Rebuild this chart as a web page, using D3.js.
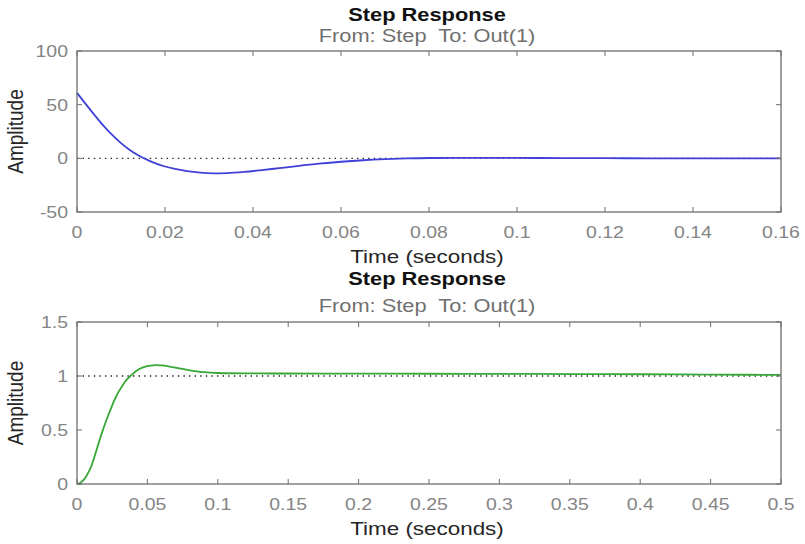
<!DOCTYPE html>
<html lang="en">
<head>
  <meta charset="UTF-8">
  <title>Step Response</title>
  <script src="https://d3js.org/d3.v7.min.js"></script>
  <style>
    body {
      margin: 0;
      background: white;
      font-family: "Liberation Sans", Arial, sans-serif;
    }
    text { white-space: pre; }
  </style>
</head>
<body>
  <div id="chart"></div>
  <script>
    // top panel: step response (time in s, amplitude)
    const topTime = [0, 0.002, 0.004, 0.006, 0.008, 0.010, 0.012, 0.014, 0.016, 0.018,
      0.020, 0.022, 0.025, 0.028, 0.031, 0.034, 0.038, 0.042, 0.046, 0.050,
      0.055, 0.060, 0.065, 0.070, 0.075, 0.080, 0.090, 0.100, 0.110, 0.120,
      0.130, 0.140, 0.160];
    const topAmp = [61, 50.5, 40.3, 30.5, 21.8, 14.2, 7.8, 2.6, -1.5, -4.9,
      -7.6, -9.7, -12, -13.4, -14, -13.8, -12.7, -11, -9.1, -7.2,
      -5, -3.2, -1.8, -0.8, -0.1, 0.3, 0.5, 0.4, 0.25, 0.12,
      0.05, 0, 0];

    // bottom panel
    const botTime = [0, 0.002, 0.004, 0.006, 0.008, 0.010, 0.012, 0.014, 0.016, 0.018,
      0.020, 0.022, 0.024, 0.026, 0.028, 0.030, 0.032, 0.034, 0.036, 0.038,
      0.040, 0.042, 0.045, 0.048, 0.052, 0.056, 0.060, 0.065, 0.070, 0.075,
      0.080, 0.085, 0.090, 0.100, 0.120, 0.150, 0.200, 0.250, 0.300, 0.350,
      0.400, 0.450, 0.500];
    const botAmp = [0, 0.008, 0.028, 0.06, 0.105, 0.16, 0.235, 0.32, 0.405, 0.485,
      0.56, 0.63, 0.695, 0.76, 0.815, 0.865, 0.905, 0.945, 0.975, 1.0,
      1.025, 1.047, 1.07, 1.085, 1.096, 1.1, 1.098, 1.09, 1.078, 1.065,
      1.052, 1.042, 1.035, 1.028, 1.024, 1.023, 1.022, 1.021, 1.02, 1.018,
      1.016, 1.013, 1.01];

    const topXTicks = [0, 0.02, 0.04, 0.06, 0.08, 0.1, 0.12, 0.14, 0.16];
    const topYTicks = [-50, 0, 50, 100];
    const botXTicks = [0, 0.05, 0.1, 0.15, 0.2, 0.25, 0.3, 0.35, 0.4, 0.45, 0.5];
    const botYTicks = [0, 0.5, 1, 1.5];

    const W = 805, H = 544;
    const STRETCH = 1.18; // the reference glyphs are wider than plain Arial

    const svg = d3.select("#chart").append("svg")
      .attr("width", W).attr("height", H);

    function label(g, x, y, str, opts) {
      const o = Object.assign({ size: 19, anchor: "middle", fill: "#262626", weight: "normal", rotate: 0 }, opts);
      return g.append("text")
        .attr("transform", `translate(${x},${y}) scale(${STRETCH},1)` + (o.rotate ? ` rotate(${o.rotate})` : ""))
        .attr("text-anchor", o.anchor)
        .attr("font-size", o.size)
        .attr("font-weight", o.weight)
        .attr("fill", o.fill)
        .text(str);
    }

    function panel(cfg) {
      const g = svg.append("g");
      const x = d3.scaleLinear().domain(cfg.xDomain).range([77, 781]);
      const y = d3.scaleLinear().domain(cfg.yDomain).range([cfg.bottom, cfg.top]);
      const tickLen = 5;
      const grey = "#858585";

      // reference line
      g.append("line")
        .attr("x1", x.range()[0]).attr("x2", x.range()[1])
        .attr("y1", y(cfg.refValue)).attr("y2", y(cfg.refValue))
        .attr("stroke", "#222").attr("stroke-width", 1.4)
        .attr("stroke-dasharray", "1.4,4.2");

      // response curve
      const pts = cfg.time.map((t, i) => [t, cfg.amp[i]]);
      g.append("path")
        .datum(pts)
        .attr("fill", "none")
        .attr("stroke", cfg.color)
        .attr("stroke-width", 1.8)
        .attr("d", d3.line().x(d => x(d[0])).y(d => y(d[1])).curve(d3.curveMonotoneX));

      // ticks on all four sides, pointing in
      const tg = g.append("g").attr("stroke", "#6e6e6e").attr("stroke-width", 1);
      cfg.xTicks.forEach(v => {
        tg.append("line").attr("x1", x(v)).attr("x2", x(v))
          .attr("y1", cfg.bottom).attr("y2", cfg.bottom - tickLen);
        tg.append("line").attr("x1", x(v)).attr("x2", x(v))
          .attr("y1", cfg.top).attr("y2", cfg.top + tickLen);
      });
      cfg.yTicks.forEach(v => {
        tg.append("line").attr("x1", 77).attr("x2", 77 + tickLen)
          .attr("y1", y(v)).attr("y2", y(v));
        tg.append("line").attr("x1", 781).attr("x2", 781 - tickLen)
          .attr("y1", y(v)).attr("y2", y(v));
      });

      // frame
      g.append("rect")
        .attr("x", 77).attr("y", cfg.top)
        .attr("width", 781 - 77).attr("height", cfg.bottom - cfg.top)
        .attr("fill", "none").attr("stroke", "#6e6e6e").attr("stroke-width", 1.3);

      // tick labels
      cfg.xTicks.forEach(v => label(g, x(v), cfg.bottom + 26, String(v), { size: 16.5, fill: grey }));
      cfg.yTicks.forEach(v => label(g, 68, y(v) + 6, String(v), { size: 16.5, fill: grey, anchor: "end" }));

      // titles
      const cx = (77 + 781) / 2 - 2;
      label(g, cx, cfg.titleY, "Step Response", { size: 18.5, weight: "bold", fill: "#111" });
      label(g, cx, cfg.titleY + 21.5 + cfg.subGap, "From: Step  To: Out(1)", { size: 18.5, fill: "#707070" });
      label(g, cx, cfg.bottom + 51, "Time (seconds)", { size: 19 });
      label(g, 23, (cfg.top + cfg.bottom) / 2, "Amplitude", { size: 19, rotate: -90 });
    }

    panel({
      time: topTime, amp: topAmp, color: "#4040d8",
      xDomain: [0, 0.16], yDomain: [-50, 100],
      xTicks: topXTicks, yTicks: topYTicks,
      top: 51, bottom: 212, refValue: 0,
      titleY: 20.5, subGap: 0
    });

    panel({
      time: botTime, amp: botAmp, color: "#36a836",
      xDomain: [0, 0.5], yDomain: [0, 1.5],
      xTicks: botXTicks, yTicks: botYTicks,
      top: 322, bottom: 484, refValue: 1,
      titleY: 285, subGap: 5
    });
  </script>
</body>
</html>
